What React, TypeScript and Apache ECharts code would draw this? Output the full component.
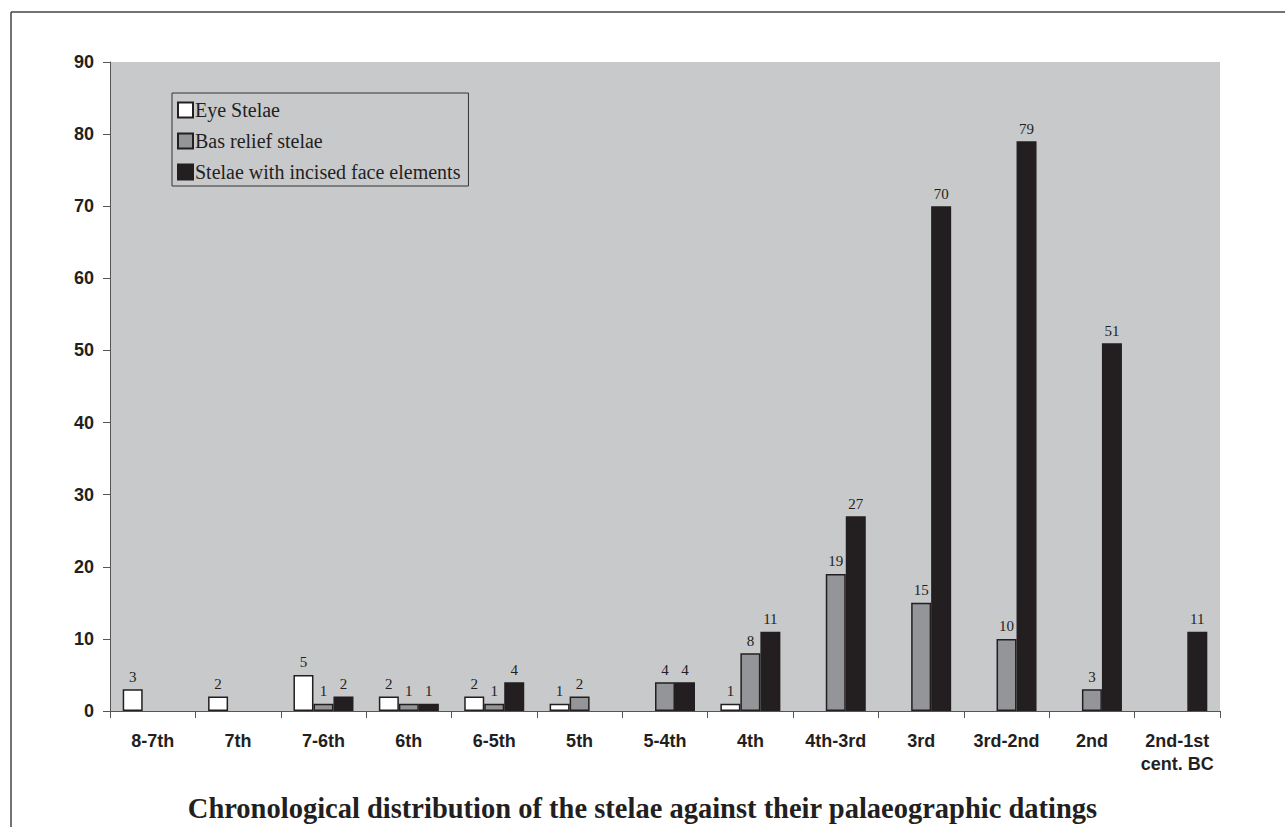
import React, { useEffect, useRef } from "react";
import * as echarts from "echarts";

const categories = ["8-7th", "7th", "7-6th", "6th", "6-5th", "5th", "5-4th", "4th", "4th-3rd", "3rd", "3rd-2nd", "2nd", "2nd-1st\ncent. BC"];
const eyeStelae = [3, 2, 5, 2, 2, 1, null, 1, null, null, null, null, null];
const basRelief = [null, null, 1, 1, 1, 2, 4, 8, 19, 15, 10, 3, null];
const incised = [null, null, 2, 1, 4, null, 4, 11, 27, 70, 79, 51, 11];
const seriesNames = ["Eye Stelae", "Bas relief stelae", "Stelae with incised face elements"];
const seriesColors = ["#ffffff", "#939598", "#231f20"];
const titleText = "Chronological distribution of the stelae against their palaeographic datings";

export default function App() {
  const ref = useRef<HTMLDivElement>(null);
  useEffect(() => {
    if (!ref.current) return;
    const chart = echarts.init(ref.current, null, { renderer: "svg" });
    const datasets = [eyeStelae, basRelief, incised];
    chart.setOption({
      animation: false,
      backgroundColor: "#ffffff",
      title: {
        text: titleText,
        left: "center",
        top: 789,
        textStyle: { fontFamily: "Liberation Serif", fontWeight: "bold", fontSize: 28.5, color: "#231f20" },
      },
      legend: {
        orient: "vertical",
        left: 172,
        top: 93,
        data: seriesNames,
        icon: "rect",
        itemWidth: 15,
        itemHeight: 15,
        itemGap: 11,
        padding: [7, 8, 4, 5],
        backgroundColor: "#c8c9cb",
        borderColor: "#333333",
        borderWidth: 1,
        textStyle: { fontFamily: "Liberation Serif", fontSize: 20, color: "#231f20", padding: [0, 0, 0, -3] },
      },
      grid: {
        left: 110,
        top: 62,
        right: 65,
        bottom: 116,
        show: true,
        backgroundColor: "#c8c9cb",
        borderWidth: 0,
      },
      xAxis: {
        type: "category",
        data: categories,
        boundaryGap: true,
        axisLine: { show: true, lineStyle: { color: "#555555", width: 1 } },
        axisTick: { show: true, length: 7, alignWithLabel: false, lineStyle: { color: "#555555" } },
        axisLabel: {
          interval: 0,
          margin: 18,
          fontFamily: "Liberation Sans",
          fontWeight: "bold",
          fontSize: 18,
          color: "#231f20",
          lineHeight: 23,
        },
      },
      yAxis: {
        type: "value",
        min: 0,
        max: 90,
        interval: 10,
        splitLine: { show: false },
        axisLine: { show: true, lineStyle: { color: "#555555", width: 1 } },
        axisTick: { show: true, length: 7, lineStyle: { color: "#555555" } },
        axisLabel: {
          margin: 16,
          fontFamily: "Liberation Sans",
          fontWeight: "bold",
          fontSize: 18,
          color: "#231f20",
        },
      },
      graphic: [
        { type: "line", shape: { x1: 11, y1: 12, x2: 11, y2: 827 }, style: { stroke: "#444444", lineWidth: 1.5 } },
        { type: "line", shape: { x1: 11, y1: 12, x2: 1285, y2: 12 }, style: { stroke: "#444444", lineWidth: 1.5 } },
      ],
      series: seriesNames.map((name, i) => ({
        name,
        type: "bar",
        data: datasets[i],
        barWidth: 20,
        barGap: "0%",
        itemStyle: { color: seriesColors[i], borderColor: "#231f20", borderWidth: 1.5 },
        label: {
          show: true,
          position: "top",
          distance: 5,
          fontFamily: "Liberation Serif",
          fontSize: 15,
          color: "#231f20",
        },
      })),
    });
    return () => chart.dispose();
  }, []);
  return <div ref={ref} style={{ position: "fixed", left: 0, top: 0, width: 1285, height: 827 }} />;
}
